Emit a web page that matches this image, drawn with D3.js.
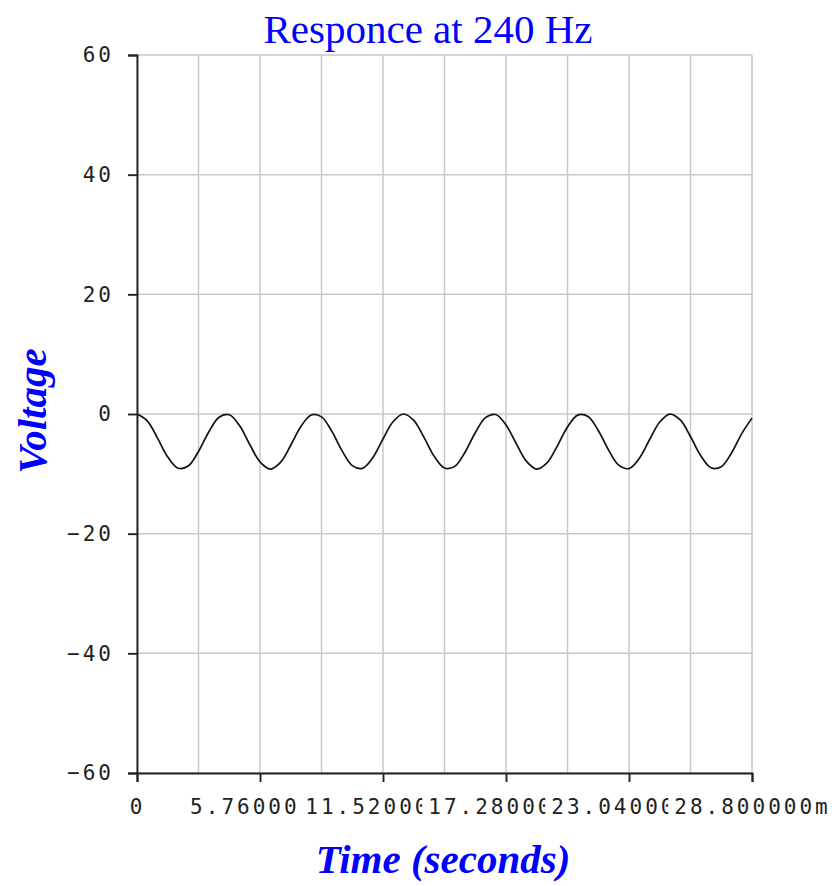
<!DOCTYPE html>
<html>
<head>
<meta charset="utf-8">
<script src="https://cdn.jsdelivr.net/npm/d3@7"></script>
<style>
  body { margin: 0; background: #fff; }
  svg { display: block; }
</style>
</head>
<body>
<script>
// time in ms, voltage
var timeMs = [0, 0.48, 0.96, 1.44, 1.92, 2.4, 2.88, 3.36, 3.84, 4.32, 4.8, 5.28, 5.76, 6.24, 6.72,
    7.2, 7.68, 8.16, 8.64, 9.12, 9.6, 10.08, 10.56, 11.04, 11.52, 12, 12.48, 12.96, 13.44, 13.92,
    14.4, 14.88, 15.36, 15.84, 16.32, 16.8, 17.28, 17.76, 18.24, 18.72, 19.2, 19.68, 20.16, 20.64,
    21.12, 21.6, 22.08, 22.56, 23.04, 23.52, 24, 24.48, 24.96, 25.44, 25.92, 26.4, 26.88, 27.36,
    27.84, 28.32, 28.8];
var voltage = [0, -1.15, -4.03, -7.2, -9.06, -8.69, -6.26, -3.0, -0.55, -0.12, -1.94, -5.1, -8.0,
    -9.2, -8.09, -5.23, -2.06, -0.16, -0.48, -2.87, -6.13, -8.62, -9.09, -7.31, -4.17, -1.25, 0,
    -1.06, -3.9, -7.08, -9.03, -8.75, -6.39, -3.13, -0.61, -0.09, -1.83, -4.96, -7.91, -9.2, -8.18,
    -5.37, -2.17, -0.19, -0.42, -2.75, -5.99, -8.55, -9.12, -7.42, -4.31, -1.34, -0.01, -0.98,
    -3.76, -6.97, -8.99, -8.81, -6.52, -3.27, -0.69];

var xTicks = [0, 5.76, 11.52, 17.28, 23.04, 28.8];
var xTickLabels = ["0", "5.760000m", "11.520000m", "17.280000m", "23.040000m", "28.800000m"];
var xGrid = [0, 2.88, 5.76, 8.64, 11.52, 14.4, 17.28, 20.16, 23.04, 25.92, 28.8];
var yTicks = [-60, -40, -20, 0, 20, 40, 60];
var yTickLabels = ["\u221260", "\u221240", "\u221220", "0", "20", "40", "60"];

var title = "Responce at 240 Hz";
var xTitle = "Time (seconds)";
var yTitle = "Voltage";

var w = 835, h = 886;
var plotL = 137, plotR = 752, plotT = 55, plotB = 773;

var svg = d3.select("body").append("svg").attr("width", w).attr("height", h);

var x = d3.scaleLinear().domain([0, 28.8]).range([plotL, plotR]);
var y = d3.scaleLinear().domain([-60, 60]).range([plotB, plotT]);

// grid
svg.append("g").selectAll("line").data(xGrid).enter().append("line")
    .attr("x1", function(d) { return x(d); }).attr("x2", function(d) { return x(d); })
    .attr("y1", plotT).attr("y2", plotB)
    .style("stroke", "#c8c8c8").style("stroke-width", 1.5);
svg.append("g").selectAll("line").data(yTicks).enter().append("line")
    .attr("x1", plotL).attr("x2", plotR)
    .attr("y1", function(d) { return y(d); }).attr("y2", function(d) { return y(d); })
    .style("stroke", "#c8c8c8").style("stroke-width", 1.5);

// curve
var line = d3.line()
    .x(function(d, i) { return x(timeMs[i]); })
    .y(function(d) { return y(d); })
    .curve(d3.curveCatmullRom);
svg.append("path").datum(voltage).attr("d", line)
    .style("fill", "none").style("stroke", "#111").style("stroke-width", 1.7);

// axes
var xAxis = d3.axisBottom(x).tickValues(xTicks).tickSize(9).tickSizeOuter(9).tickPadding(17)
    .tickFormat(function(d, i) { return xTickLabels[i]; });
var yAxis = d3.axisLeft(y).tickValues(yTicks).tickSize(9).tickSizeOuter(9).tickPadding(14)
    .tickFormat(function(d, i) { return yTickLabels[i]; });

var gx = svg.append("g").attr("transform", "translate(0," + plotB + ")").call(xAxis);
var gy = svg.append("g").attr("transform", "translate(" + plotL + ",0)").call(yAxis);

[gx, gy].forEach(function(g) {
    g.selectAll("path, line").style("stroke", "#222").style("stroke-width", 1.9);
    g.selectAll("text")
        .style("font-family", "'DejaVu Sans Mono', monospace")
        .style("font-size", "21px")
        .style("letter-spacing", "3px")
        .style("fill", "#222");
});

// each later x label paints over the one before it
gx.selectAll(".tick").each(function() {
    var t = d3.select(this).select("text");
    var b = t.node().getBBox();
    d3.select(this).insert("rect", "text")
        .attr("x", b.x - 6).attr("y", b.y).attr("width", b.width + 6).attr("height", b.height)
        .style("fill", "#fff");
});

// titles
svg.append("text").attr("x", 428).attr("y", 43).attr("text-anchor", "middle")
    .style("font-family", "'Liberation Serif', serif").style("font-size", "41px")
    .style("fill", "#0000ff").text(title);

svg.append("text").attr("x", 443).attr("y", 873).attr("text-anchor", "middle")
    .style("font-family", "'Liberation Serif', serif").style("font-size", "41px")
    .style("font-weight", "bold").style("font-style", "italic")
    .style("fill", "#0000ff").text(xTitle);

svg.append("text").attr("transform", "translate(46,411) rotate(-90)").attr("text-anchor", "middle")
    .style("font-family", "'Liberation Serif', serif").style("font-size", "41px")
    .style("font-weight", "bold").style("font-style", "italic")
    .style("fill", "#0000ff").text(yTitle);
</script>
</body>
</html>
